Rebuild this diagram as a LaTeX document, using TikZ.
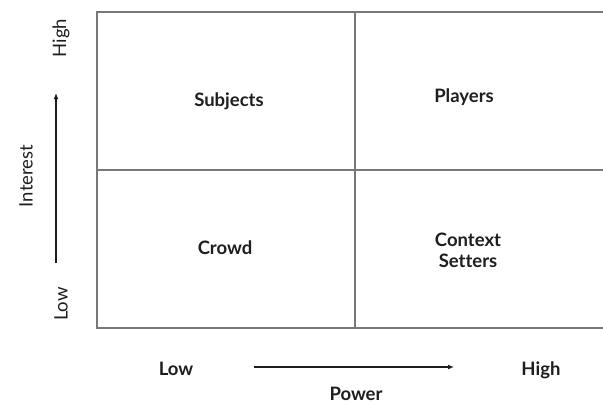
\documentclass[tikz,border=0pt]{standalone}
\usepackage{fontspec}
\setmainfont{Lato}[Ligatures=NoCommon]
\usetikzlibrary{arrows.meta}
\definecolor{gridgray}{RGB}{120,120,120}
\definecolor{txt}{RGB}{30,30,30}
\begin{document}
\begin{tikzpicture}[x=1pt,y=-1pt,
  qfont/.style={font=\fontsize{18.5}{21}\selectfont\bfseries},
  vfont/.style={font=\fontsize{18.5}{21}\selectfont\mdseries},
  gridline/.style={draw=gridgray,line width=2pt},
  qlabel/.style={qfont,text=txt,align=center},
  axlabel/.style={qfont,text=txt},
  vlabel/.style={vfont,text=txt,rotate=90},
  axarrow/.style={draw=txt,line width=1.3pt,-{Latex[length=6pt,width=5pt]}}]
\useasboundingbox[fill=white] (0,0) rectangle (603,405);
% grid
\coordinate (tl) at (97,12);
\coordinate (bl) at (97,328);
\coordinate (tr) at (606,12);
\coordinate (br) at (606,328);
\coordinate (tm) at (355,12);
\coordinate (bm) at (355,328);
\coordinate (ml) at (97,170);
\coordinate (mr) at (606,170);
\draw[gridline] (tr) -- (tl) -- (bl) -- (br);
\draw[gridline] (tm) -- (bm);
\draw[gridline] (ml) -- (mr);
% quadrant labels
\node[qlabel] (subj) at (229,101) {Subjects};
\node[qlabel] (play) at (464,97) {Players};
\node[qlabel] (crowd) at (225,248) {Crowd};
\node[qlabel] (ctx) at (468,250) {Context\\Setters};
% vertical axis
\node[vlabel] (vhigh) at (61,38) {High};
\node[vlabel] (vlow) at (61,304) {Low};
\node[vlabel] (vint) at (26,176) {Interest};
\coordinate (va) at (56,263);
\coordinate (vb) at (56,93);
\draw[axarrow] (va) -- (vb);
% horizontal axis
\node[axlabel] (hlow) at (176,369) {Low};
\node[axlabel] (hhigh) at (541,370) {High};
\node[axlabel] (hpow) at (356,394) {Power};
\coordinate (ha) at (254,367);
\coordinate (hb) at (454,367);
\draw[axarrow] (ha) -- (hb);
\end{tikzpicture}
\end{document}
